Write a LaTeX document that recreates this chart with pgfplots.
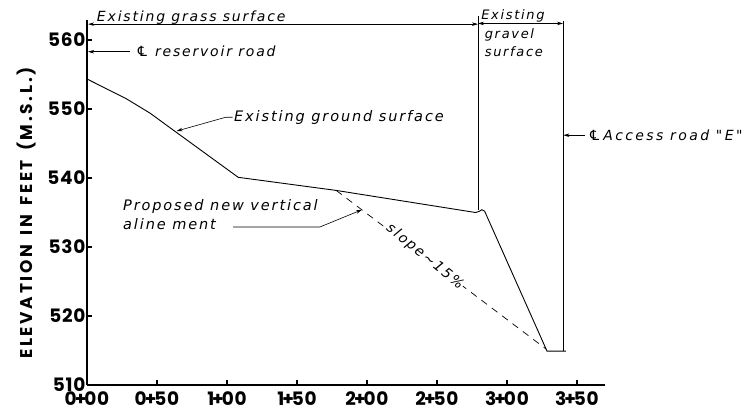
\documentclass[border=0pt]{standalone}
\usepackage{fontspec}
\usepackage{pgfplots}
\pgfplotsset{compat=1.18}
\usetikzlibrary{arrows.meta}
\newfontfamily\hand[LetterSpace=13]{DejaVu Sans}
\newfontfamily\handwide[LetterSpace=17]{DejaVu Sans}
\newfontfamily\tickfont[LetterSpace=4]{Poppins}
\newfontfamily\labfont[LetterSpace=16]{Poppins}
\newcommand{\hf}{\hand\itshape\fontsize{14}{18}\selectfont}
\newcommand{\st}[2]{#1\kern-2pt+\kern-2pt#2}
\begin{document}
\begin{tikzpicture}
\useasboundingbox (-87pt,-28pt) rectangle (666pt,385pt);
\begin{axis}[
  scale only axis, width=518pt, height=365pt,
  at={(0pt,0pt)}, anchor=south west,
  xmin=0, xmax=370, ymin=510, ymax=562.9,
  axis x line=bottom, axis y line=left,
  axis line style={-, line width=2.6pt},
  xtick={0,50,...,350},
  xticklabels={\st{0}{00},\st{0}{50},\st{1}{00},\st{1}{50},\st{2}{00},\st{2}{50},\st{3}{00},\st{3}{50}},
  ytick={510,520,...,560},
  yticklabels={510,520,530,540,550,560},
  tick align=inside, major tick length=5pt,
  tick style={line width=1.2pt, black},
  tick label style={font=\tickfont\bfseries\fontsize{18.5}{18.5}\selectfont},
  xticklabel style={yshift=-3pt},
  yticklabel style={xshift=2pt},
  clip=false,
]
% existing ground surface
\addplot[black, line width=0.9pt] coordinates {
 (0,554.35) (28,551.5) (45,549.4) (108,540.1) (178,538.2) (277.5,535.0)
 (280,535.15) (282,535.4) (284,535.2) (328.6,514.9) (342,514.9)};
% proposed new vertical alinement
\addplot[black, line width=0.7pt, dash pattern=on 7pt off 6pt] coordinates {
 (178,538.2) (328,515.2)};
% limits of gravel surface
\addplot[black, line width=0.8pt] coordinates {(279.3,535.3) (279.3,563.5)};
\addplot[black, line width=0.8pt] coordinates {(340,514.9) (340,562.7)};

% dimension lines
\draw[{Stealth[length=6pt,width=3.5pt]}-{Stealth[length=6pt,width=3.5pt]}, line width=0.6pt]
  (axis cs:0.8,562.3) -- (axis cs:279.3,562.3);
\draw[{Stealth[length=6pt,width=3.5pt]}-{Stealth[length=6pt,width=3.5pt]}, line width=0.6pt]
  (axis cs:279.3,562.4) -- (axis cs:340,562.4);
\node[anchor=base west, font=\hf, inner sep=0pt] at (axis cs:7,562.75) {Existing grass surface};
\node[anchor=base west, font=\hand\itshape\fontsize{13}{13}\selectfont, inner sep=0pt] at (axis cs:281.5,563.0) {Existing};
\node[anchor=north west, font=\hand\itshape\fontsize{13}{18}\selectfont, inner sep=0pt, align=left] at (axis cs:284,561.74) {gravel\\surface};

% reservoir road
\draw[-{Stealth[length=6pt,width=3.5pt]}, line width=0.6pt] (axis cs:31,558.3) -- (axis cs:0.8,558.3);
\node[anchor=west, font=\hf, inner sep=0pt] at (axis cs:35,558.3) {℄ reservoir road};

% existing ground surface label
\draw[-{Stealth[length=6pt,width=3.5pt]}, line width=0.6pt] (axis cs:104,548.8) -- (axis cs:99,548.8) -- (axis cs:64,546.8);
\node[anchor=west, font=\hand\itshape\fontsize{14.5}{18}\selectfont, inner sep=0pt] at (axis cs:105,548.8) {Existing ground surface};

% proposed label
\node[anchor=west, font=\hand\itshape\fontsize{14.5}{18}\selectfont, inner sep=0pt] at (axis cs:25.7,535.8) {Proposed new vertical};
\node[anchor=west, font=\hand\itshape\fontsize{14.5}{18}\selectfont, inner sep=0pt] at (axis cs:25.7,533.3) {aline ment};
\draw[-{Stealth[length=6pt,width=3.5pt]}, line width=0.6pt] (axis cs:104.3,532.9) -- (axis cs:166.4,532.9) -- (axis cs:196.4,535.4);

% slope label
\node[font=\hf, fill=white, inner sep=0.5pt, rotate=-39] at (axis cs:241.4,528.6) {slope∼15\%};

% access road
\draw[-{Stealth[length=6pt,width=3.5pt]}, line width=0.6pt] (axis cs:355.7,546.2) -- (axis cs:340.3,546.2);
\node[anchor=west, font=\handwide\itshape\fontsize{14}{14}\selectfont, inner sep=0pt] at (axis cs:358,546.2) {℄Access road "E"};
\end{axis}
\node[rotate=90, font=\labfont\bfseries\fontsize{17}{17}\selectfont] at (-60pt,172pt) {ELEVATION\hspace{9pt}IN\hspace{9pt}FEET\hspace{9pt}(M.S.L.)};
\end{tikzpicture}
\end{document}
